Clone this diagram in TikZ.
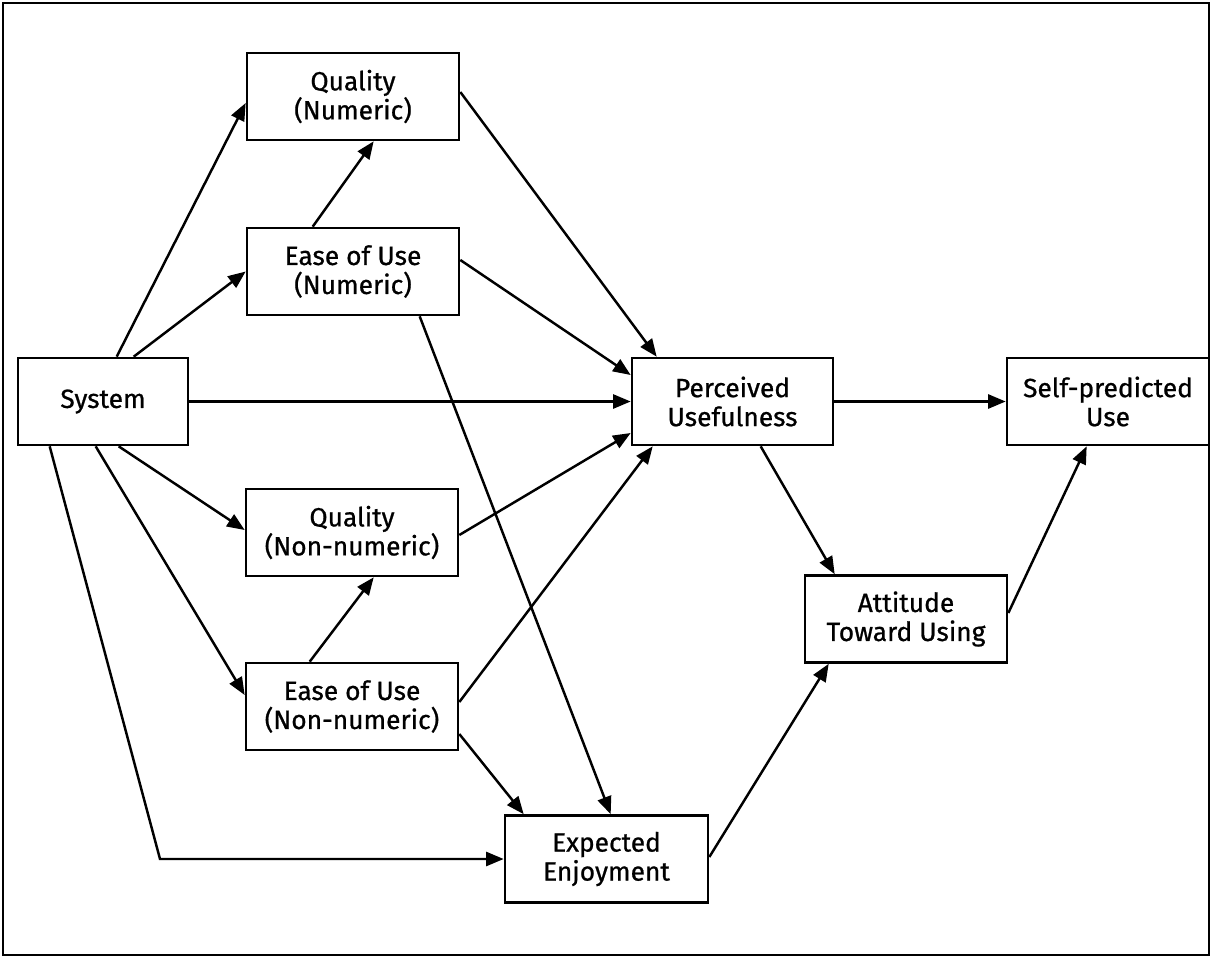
\documentclass[tikz,border=0pt]{standalone}
\usepackage{fontspec}
\setmainfont{Fira Sans}
\newfontfamily\boxfont{Fira Sans}[FakeBold=0.8]
\usepackage{tikz}
\usetikzlibrary{arrows.meta}
\tikzstyle{box}=[rectangle, draw=black, line width=1.5pt,
text centered, align=center,
minimum width=4.24cm,
minimum height=1.74cm,
inner sep=0pt,
font=\boxfont\fontsize{15}{16.5}\selectfont]
\tikzstyle{link}=[line width=1.4pt, -{Triangle[length=10pt,width=8pt]}]

\begin{document}
\begin{tikzpicture}
\useasboundingbox (0,0) rectangle (24.24,-19.16);
\draw[line width=1.2pt] (0.06,-0.06) rectangle (24.18,-19.1);

\node[box] (qn) at (7.06,-1.93) {Quality\\(Numeric)};
\node[box] (en) at (7.06,-5.43) {Ease of Use\\(Numeric)};
\node[box,minimum width=3.4cm] (sys) at (2.06,-8.03) {System};
\node[box,minimum width=4.02cm] (pu) at (14.65,-8.03) {Perceived\\Usefulness};
\node[box,minimum width=4.04cm] (spu) at (22.16,-8.03) {Self-predicted\\Use};
\node[box] (qnn) at (7.04,-10.65) {Quality\\(Non-numeric)};
\node[box,minimum width=4.04cm] (att) at (18.12,-12.38) {Attitude\\Toward Using};
\node[box] (enn) at (7.04,-14.13) {Ease of Use\\(Non-numeric)};
\node[box,minimum width=4.06cm] (ee) at (12.13,-17.18) {Expected\\Enjoyment};

\coordinate (kink) at (3.2,-17.18);

%%%%%%%%%%%%%%%%%%%%%%%%%%%

\draw[link] ([xshift=2cm]sys.north west) -- ([yshift=-0.13cm]qn.west);
\draw[link] ([xshift=2.34cm]sys.north west) -- (en.west);
\draw[link] ([xshift=1.34cm]en.north west) -- ([xshift=2.56cm]qn.south west);
\draw[link] ([yshift=0.09cm]qn.east) -- ([xshift=0.52cm]pu.north west);
\draw[link] ([yshift=0.23cm]en.east) -- ([yshift=0.53cm]pu.west);
\draw[link] (sys.east) -- (pu.west);
\draw[link] ([yshift=-0.05cm]qnn.east) -- ([yshift=-0.63cm]pu.west);
\draw[link] ([yshift=0.09cm]enn.east) -- ([xshift=0.44cm]pu.south west);
\draw[link] ([xshift=3.48cm]en.south west) -- ([xshift=2.14cm]ee.north west);

\draw[link] ([xshift=2.04cm]sys.south west) -- ([yshift=0.05cm]qnn.west);
\draw[link] ([xshift=1.58cm]sys.south west) -- ([yshift=0.23cm]enn.west);
\draw[link] ([xshift=1.3cm]enn.north west) -- ([xshift=2.58cm]qnn.south west);
\draw[link] ([yshift=-0.55cm]enn.east) -- ([xshift=0.4cm]ee.north west);
\draw[link] ([xshift=0.66cm]sys.south west) -- (kink) -- (ee.west);

\draw[link] (pu.east) -- (spu.west);
\draw[link] ([xshift=2.6cm]pu.south west) -- ([xshift=0.62cm]att.north west);
\draw[link] ([yshift=0.12cm]att.east) -- ([xshift=1.62cm]spu.south west);
\draw[link] ([yshift=0.04cm]ee.east) -- ([xshift=0.5cm]att.south west);

\end{tikzpicture}
\end{document}
